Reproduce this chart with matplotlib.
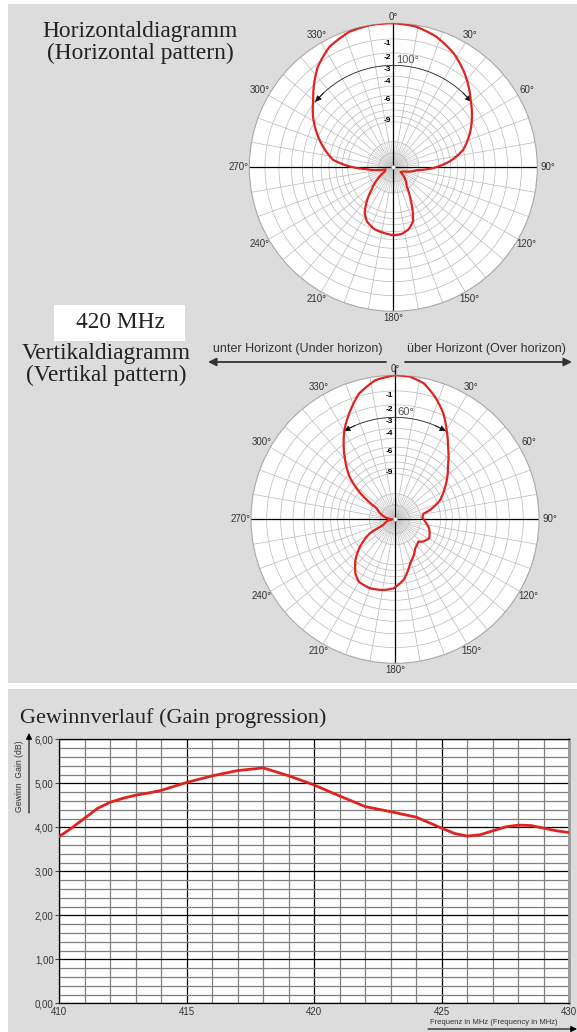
import numpy as np
import matplotlib.pyplot as plt
from matplotlib.patches import Rectangle, PathPatch
from matplotlib.path import Path
from matplotlib.ticker import MultipleLocator

plt.rcParams['font.family'] = ['Liberation Sans', 'DejaVu Sans']

# Horizontal pattern (angle in deg, relative field strength)
h_angle = [0, 9, 18, 28, 37, 49, 59, 66, 76, 84, 91, 97, 112, 123, 145, 152, 157,
           160, 166, 173, 180, 187, 197, 206, 212, 217, 224, 234, 243, 255, 266,
           271, 277, 290, 302, 310, 323, 332, 342, 351]
h_rel = [1.0, 0.99, 0.956, 0.895, 0.821, 0.712, 0.636, 0.582, 0.50, 0.395, 0.278,
         0.163, 0.075, 0.06, 0.163, 0.257, 0.348, 0.40, 0.443, 0.467, 0.472, 0.462,
         0.449, 0.418, 0.375, 0.311, 0.218, 0.129, 0.065, 0.055, 0.186, 0.301, 0.42,
         0.543, 0.657, 0.726, 0.872, 0.946, 0.989, 1.0]

# Vertical pattern
v_angle = [0, 6, 12, 18, 24.5, 30, 36, 45, 57, 67, 75, 79, 86, 94, 105, 119, 128,
           134, 145, 161, 172, 181, 189, 200, 210, 216, 224, 232, 241, 244, 270,
           301, 307, 313, 320, 326, 331, 338, 344, 352]
v_rel = [1.0, 0.996, 0.965, 0.896, 0.809, 0.717, 0.626, 0.52, 0.415, 0.34, 0.252,
         0.20, 0.19, 0.209, 0.246, 0.272, 0.25, 0.224, 0.245, 0.323, 0.425, 0.479,
         0.497, 0.51, 0.502, 0.467, 0.396, 0.308, 0.199, 0.09, 0.02, 0.148, 0.303,
         0.431, 0.539, 0.638, 0.721, 0.821, 0.908, 0.976]

h_beam = 100
v_beam = 60

ring_db = [-1, -2, -3, -4, -5, -6, -7, -8, -9, -10, -15, -20]
label_db = [-1, -2, -3, -4, -6, -9]

# Gain progression
freq = [410, 410.5, 411, 411.5, 412, 412.5, 413, 413.5, 414, 414.5, 415, 416, 417,
        418, 419, 420, 421, 422, 423, 424, 425, 425.5, 426, 426.5, 427, 427.5, 428,
        428.5, 429, 429.5, 430]
gain = [3.79, 3.99, 4.21, 4.43, 4.57, 4.66, 4.73, 4.78, 4.84, 4.93, 5.02, 5.17,
        5.29, 5.35, 5.17, 4.96, 4.71, 4.47, 4.355, 4.23, 3.98, 3.86, 3.80, 3.83,
        3.92, 4.01, 4.05, 4.04, 3.98, 3.92, 3.88]

W, H = 577, 1032
fig = plt.figure(figsize=(W / 100, H / 100), dpi=100)
narrow = ['Liberation Sans Narrow', 'Liberation Sans']
serif = ['Liberation Serif', 'DejaVu Serif']


def rect(x0, y0, x1, y1):
    return [x0 / W, 1 - y1 / H, (x1 - x0) / W, (y1 - y0) / H]


# background layer in pixel coordinates
bg = fig.add_axes([0, 0, 1, 1])
bg.set_xlim(0, W)
bg.set_ylim(H, 0)
bg.axis('off')
bg.add_patch(Rectangle((8, 4), W - 8, 679, color='#dcdcdc', lw=0))
bg.add_patch(Rectangle((8, 689), W - 8, H - 689, color='#dcdcdc', lw=0))

title_kw = dict(ha='center', va='center', fontsize=16.8, family=serif, color='#222')
bg.text(140, 32, 'Horizontaldiagramm', **title_kw)
bg.text(140, 53, '(Horizontal pattern)', **title_kw)
bg.add_patch(Rectangle((54, 305), 131, 36, color='white', lw=0))
bg.text(120, 323, '420 MHz', **title_kw)
bg.text(106, 354, 'Vertikaldiagramm', **title_kw)
bg.text(106, 375, '(Vertikal pattern)', **title_kw)

bg.text(298, 349, 'unter Horizont (Under horizon)', ha='center', va='center',
        fontsize=9, family=narrow, color='#333')
bg.text(486, 349, 'über Horizont (Over horizon)', ha='center', va='center',
        fontsize=9, family=narrow, color='#333')
arr = dict(arrowstyle='-|>', color='#333', lw=1.3, mutation_scale=12, shrinkA=0, shrinkB=0)
bg.annotate('', xy=(208, 362), xytext=(386, 362), arrowprops=arr)
bg.annotate('', xy=(572, 362), xytext=(405, 362), arrowprops=arr)
bg.plot([395, 395], [366, 376], color='k', lw=1)


def polar_panel(x0, y0, size, angle, rel, beam):
    ax = fig.add_axes(rect(x0, y0, x0 + size, y0 + size), projection='polar')
    ax.set_theta_zero_location('N')
    ax.set_theta_direction(-1)
    ax.set_ylim(0, 1)
    ax.set_facecolor('white')
    ax.set_xticks(np.deg2rad(np.arange(0, 360, 10)))
    ax.set_xticklabels([])
    ax.set_yticks([10 ** (d / 20) for d in ring_db])
    ax.set_yticklabels([])
    ax.tick_params(length=0)
    ax.grid(color='#b9b9b9', lw=0.5)
    ax.spines['polar'].set_color('#a8a8a8')
    ax.spines['polar'].set_linewidth(0.8)
    r15 = 10 ** (-15 / 20)
    for a in np.arange(5, 360, 10):
        ax.plot([np.deg2rad(a)] * 2, [0, r15], color='#c4c4c4', lw=0.4)
    for a in (0, 90, 180, 270):
        ax.plot([np.deg2rad(a)] * 2, [0, 1], color='black', lw=0.9)
    for a in range(0, 360, 30):
        t = np.deg2rad(a)
        r = 1.045 + 0.03 * abs(np.sin(t))
        ax.text(t, r, f'{a}°', ha='center', va='center', fontsize=7, color='#333')
    for d in label_db:
        ax.annotate(f'{d}', xy=(0, 10 ** (d / 20)), xytext=(-1.5, -0.8),
                    textcoords='offset points', ha='right', va='top',
                    fontsize=6, fontweight='bold', color='black')
    # -3 dB beamwidth arc
    r3 = 10 ** (-3 / 20)
    arc = np.deg2rad(np.linspace(-beam / 2, beam / 2, 100))
    ax.plot(arc, np.full_like(arc, r3), color='#333', lw=0.6)
    head = dict(arrowstyle='-|>', color='#111', lw=0.6, mutation_scale=9, shrinkA=0, shrinkB=0)
    for s in (-1, 1):
        ax.annotate('', xy=(np.deg2rad(s * beam / 2), r3),
                    xytext=(np.deg2rad(s * (beam / 2 - 7)), r3), arrowprops=head)
    ax.annotate(f'{beam}°', xy=(0, 0.745), xytext=(2, 0), textcoords='offset points',
                ha='left', va='center', fontsize=8, color='#555')
    # pattern as a path so the polar transform draws it in polar space;
    # close at 360 deg so the last segment does not wrap backwards
    verts = np.column_stack([np.deg2rad(angle + [angle[0] + 360]), rel + [rel[0]]])
    pat = Path(verts, _interpolation_steps=12)
    ax.add_patch(PathPatch(pat, fill=False, edgecolor='#e0231f', lw=1.6,
                           joinstyle='round', zorder=5))
    ax.plot(0, 0, 'o', ms=3, mfc='white', mec='#999', mew=0.5, zorder=6)
    return ax


polar_panel(249.3, 23.3, 288, h_angle, h_rel, h_beam)
polar_panel(251, 375.3, 288, v_angle, v_rel, v_beam)

# Gain progression
bg.text(20, 718, 'Gewinnverlauf (Gain progression)', ha='left', va='center',
        fontsize=16, family=serif, color='#222')
ax = fig.add_axes(rect(59.3, 739.3, 569.3, 1003.3))
ax.set_facecolor('white')
ax.set_xlim(410, 430)
ax.set_ylim(0, 6)
ax.xaxis.set_major_locator(MultipleLocator(5))
ax.xaxis.set_minor_locator(MultipleLocator(1))
ax.yaxis.set_major_locator(MultipleLocator(1))
ax.yaxis.set_minor_locator(MultipleLocator(0.2))
yt = np.arange(0, 7, 1)
ax.set_yticks(yt)
ax.set_yticklabels([f'{v:.2f}'.replace('.', ',') for v in yt])
ax.grid(which='major', color='black', lw=0.9)
ax.grid(which='minor', color='#808080', lw=0.9)
ax.set_axisbelow(True)
for s in ('left', 'top', 'bottom'):
    ax.spines[s].set_color('black')
    ax.spines[s].set_linewidth(0.9)
ax.spines['right'].set_color('#9a9a9a')
ax.spines['right'].set_linewidth(2)
ax.tick_params(axis='y', which='major', length=3, width=0.8, color='#444',
               labelsize=7, labelcolor='#333', pad=1)
ax.tick_params(axis='x', which='major', length=0, labelsize=7, labelcolor='#333', pad=3)
ax.tick_params(which='minor', length=0)
ax.plot(freq, gain, color='#e0231f', lw=2.0, zorder=3)

bg.text(20, 776, 'Gewinn  Gain (dB)', rotation=90, ha='center', va='center',
        fontsize=6.2, family=narrow, color='#333')
small = dict(arrowstyle='-|>', color='black', lw=0.8, mutation_scale=9, shrinkA=0, shrinkB=0)
bg.annotate('', xy=(29, 733), xytext=(29, 813), arrowprops=small)
bg.text(494, 1022, 'Frequenz in MHz (Frequency in MHz)', ha='center', va='center',
        fontsize=5.5, family=narrow, color='#333')
bg.annotate('', xy=(577, 1029), xytext=(428, 1029), arrowprops=small)

fig.savefig('out.png', dpi=100)
